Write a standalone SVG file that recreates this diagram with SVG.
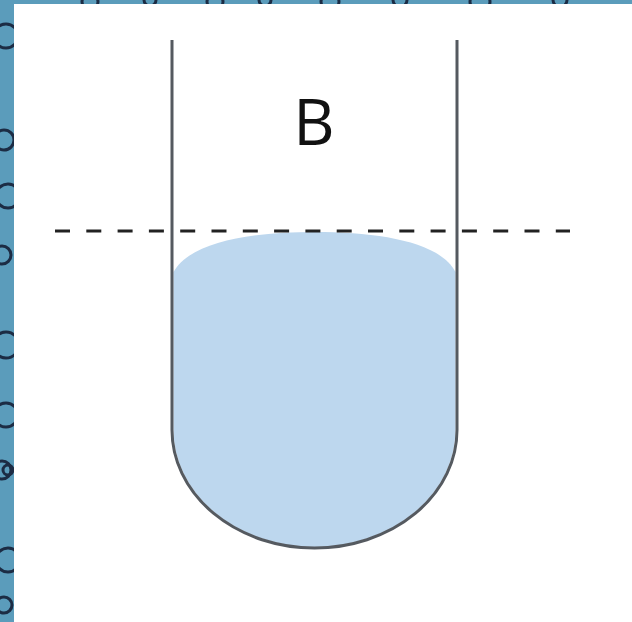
<svg xmlns="http://www.w3.org/2000/svg" width="632" height="622" viewBox="0 0 632 622">
  <style>
    .bubble { fill: none; stroke: #1c2c44; stroke-width: 3; }
    .wall { fill: none; stroke: #555a60; stroke-width: 3; }
    .level { stroke: #222; stroke-width: 3; stroke-dasharray: 15 16.3; }
  </style>
  <g id="background">
    <rect x="0" y="0" width="632" height="622" fill="#5b9cbb"/>
    <circle class="bubble" cx="6" cy="36" r="12"/>
    <circle class="bubble" cx="4" cy="140" r="10"/>
    <circle class="bubble" cx="8" cy="196" r="12"/>
    <circle class="bubble" cx="2" cy="255" r="9"/>
    <circle class="bubble" cx="6" cy="345" r="13"/>
    <circle class="bubble" cx="6" cy="415" r="12"/>
    <circle class="bubble" cx="2" cy="470" r="9"/>
    <circle class="bubble" cx="8" cy="470" r="5"/>
    <circle class="bubble" cx="8" cy="560" r="12"/>
    <circle class="bubble" cx="4" cy="605" r="8"/>
    <circle class="bubble" cx="90" cy="2" r="8"/>
    <circle class="bubble" cx="150" cy="0" r="6"/>
    <circle class="bubble" cx="215" cy="2" r="8"/>
    <circle class="bubble" cx="265" cy="0" r="6"/>
    <circle class="bubble" cx="330" cy="2" r="9"/>
    <circle class="bubble" cx="400" cy="0" r="7"/>
    <circle class="bubble" cx="480" cy="2" r="10"/>
    <circle class="bubble" cx="560" cy="0" r="7"/>
    <rect x="14" y="4" width="618" height="618" fill="#ffffff"/>
  </g>
  <g id="liquid">
    <path d="M173.5,272 C190,242 250,232 314.5,232 C380,232 440,242 455.5,272 L455.5,430 A141,117 0 0 1 173.5,430 Z" fill="#bdd7ee"/>
  </g>
  <g id="tube">
    <path class="wall" d="M172,40 L172,430 A142.5,118 0 0 0 457,430 L457,40"/>
  </g>
  <g id="level-line">
    <line class="level" x1="55" y1="231" x2="570" y2="231"/>
  </g>
  <g id="label">
    <text x="314" y="145" font-family="'Open Sans', 'Liberation Sans', sans-serif" font-size="64" fill="#111" text-anchor="middle">B</text>
  </g>
</svg>
